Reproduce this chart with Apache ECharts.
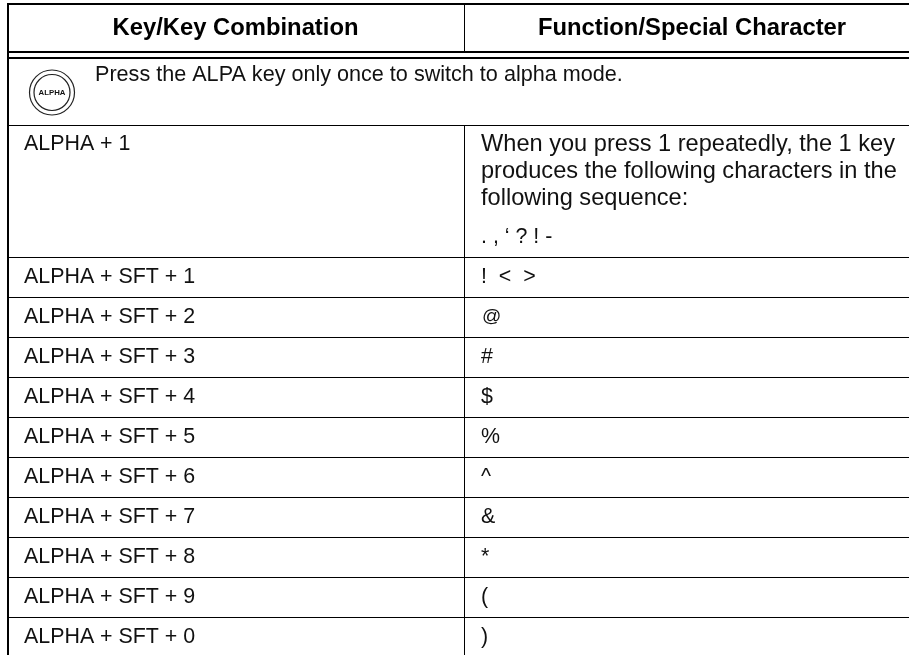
<!DOCTYPE html>
<html>
<head>
<meta charset="utf-8">
<title>Key combinations</title>
<script src="https://cdn.jsdelivr.net/npm/echarts@6/dist/echarts.min.js"></script>
<style>
  html, body { margin: 0; padding: 0; background: #fff; }
  #chart { width: 909px; height: 655px; }
</style>
</head>
<body>
<div id="chart"></div>
<script>
// table content
const headers = ['Key/Key Combination', 'Function/Special Character'];
const note = 'Press the ALPA key only once to switch to alpha mode.';
const iconLabel = 'ALPHA';
const firstKey = 'ALPHA + 1';
const firstKeyText = [
  'When you press 1 repeatedly, the 1 key',
  'produces the following characters in the',
  'following sequence:'
];
const firstKeyChars = '. , \u2018 ? ! -';
const keys = ['ALPHA + SFT + 1', 'ALPHA + SFT + 2', 'ALPHA + SFT + 3', 'ALPHA + SFT + 4', 'ALPHA + SFT + 5',
  'ALPHA + SFT + 6', 'ALPHA + SFT + 7', 'ALPHA + SFT + 8', 'ALPHA + SFT + 9', 'ALPHA + SFT + 0'];
const chars = ['!  <  >', '@', '#', '$', '%', '^', '&', '*', '(', ')'];

const font = '"Liberation Sans", Arial, sans-serif';
const textX1 = 24;
const textX2 = 481;

function hline(y, w) {
  return { type: 'line', shape: { x1: 7, y1: y, x2: 909, y2: y }, style: { stroke: '#000', lineWidth: w } };
}
function vline(x, y1, y2, w) {
  return { type: 'line', shape: { x1: x, y1: y1, x2: x, y2: y2 }, style: { stroke: '#000', lineWidth: w } };
}
function label(text, x, y, opt) {
  opt = opt || {};
  return {
    type: 'text', x: x, y: y,
    style: {
      text: text, fill: opt.fill || '#111', font: (opt.weight || 'normal') + ' ' + (opt.size || 21.4) + 'px ' + font,
      align: opt.align || 'left', verticalAlign: 'middle'
    }
  };
}

let elements = [];

// borders and rules
elements.push(hline(4, 2));
elements.push(hline(52, 2));
elements.push(hline(58, 2));
elements.push(hline(125.5, 1));
elements.push(vline(8, 3, 655, 2));
elements.push(vline(464.5, 5, 52, 1));
elements.push(vline(464.5, 125, 655, 1));

// header
elements.push(label(headers[0], 235.5, 28, { weight: 'bold', size: 23.8, align: 'center', fill: '#000' }));
elements.push(label(headers[1], 692, 28, { weight: 'bold', size: 23.8, align: 'center', fill: '#000' }));

// note row with the key icon
elements.push({ type: 'circle', shape: { cx: 52, cy: 92.5, r: 22.5 }, style: { fill: '#fff', stroke: '#222', lineWidth: 1.2 } });
elements.push({ type: 'circle', shape: { cx: 52, cy: 92.5, r: 18 }, style: { fill: '#fff', stroke: '#222', lineWidth: 1.2 } });
elements.push(label(iconLabel, 52, 93, { weight: 'bold', size: 7.8, align: 'center' }));
elements.push(label(note, 95, 75, { size: 21.6 }));

// first key row
elements.push(label(firstKey, textX1, 144));
firstKeyText.forEach(function (t, i) {
  elements.push(label(t, textX2, 144.5 + i * 27, { size: 23.6 }));
});
elements.push(label(firstKeyChars, textX2, 237.5));

// remaining rows, 40px each
keys.forEach(function (k, i) {
  const top = 257 + i * 40;
  elements.push(hline(top + 0.5, 1));
  elements.push(label(k, textX1, top + 20));
  // the @ sign is drawn smaller than the other symbols in the source
  if (chars[i] === '@') {
    elements.push(label(chars[i], textX2 + 1, top + 20, { size: 19 }));
  } else {
    elements.push(label(chars[i], textX2, top + 20));
  }
});

const chart = echarts.init(document.getElementById('chart'), null, { renderer: 'canvas' });
chart.setOption({
  animation: false,
  backgroundColor: '#fff',
  graphic: { elements: elements }
});
</script>
</body>
</html>
